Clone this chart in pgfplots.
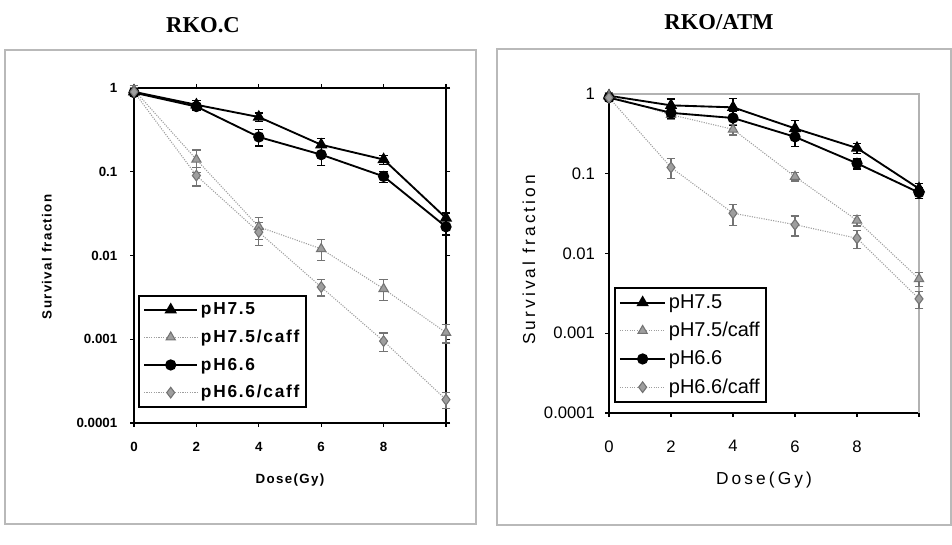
\documentclass[border=0pt]{standalone}
\usepackage{fontspec}
\setmainfont{Liberation Sans}
\newfontfamily\titlefont{Liberation Serif}
\newfontfamily\spacedfont[LetterSpace=10]{Liberation Sans}
\newfontfamily\widefont[LetterSpace=18]{Liberation Sans}
\usepackage{pgfplots}
\pgfplotsset{compat=1.18}
\definecolor{lgray}{gray}{0.62}
\definecolor{mgray}{gray}{0.45}

\pgfplotsset{
  blackser/.style={black, line width=1.4pt,
     error bars/y dir=both, error bars/y explicit relative,
     error bars/error bar style={black, line width=0.9pt},
     error bars/error mark options={rotate=90, mark size=3.2pt, black, line width=0.9pt}},
  grayser/.style={lgray, line width=0.8pt, densely dotted, mark options={solid, fill=lgray, draw=mgray},
     error bars/y dir=both, error bars/y explicit relative,
     error bars/error bar style={mgray, solid, line width=0.9pt},
     error bars/error mark options={rotate=90, mark size=3.2pt, mgray, solid, line width=0.9pt}},
  legimg/.style={legend image code/.code={\draw[mark repeat=2,mark phase=2] plot coordinates {(0pt,0pt)(#1,0pt)(2*#1,0pt)};}},
}

\begin{document}
\begin{tikzpicture}[x=0.75pt,y=0.75pt]
\path[use as bounding box] (0,0) rectangle (952,545);
\fill[white] (0,0) rectangle (952,545);
\draw[gray!55, line width=0.8pt] (5,21) rectangle (476,495);
\draw[gray!55, line width=0.8pt] (497,20) rectangle (951,496);
\node[font=\titlefont\bfseries\fontsize{17}{19}\selectfont] at (203,520) {RKO.C};
\node[font=\titlefont\bfseries\fontsize{17}{19}\selectfont] at (719,523) {RKO/ATM};

% ---------------- Left panel: RKO.C ----------------
\begin{axis}[
  at={(100.5pt,91.5pt)}, anchor=south west,
  scale only axis, width=234pt, height=251.25pt,
  ymode=log, xmin=0, xmax=10, ymin=1e-4, ymax=1,
  clip=false,
  xtick={0,2,4,6,8,10}, xticklabels={0,2,4,6,8,{}},
  ytick={1e-4,1e-3,1e-2,1e-1,1}, yticklabels={0.0001,0.001,0.01,0.1,1},
  yminorticks=false,
  axis line style={line width=1.6pt},
  tick style={black, line width=1pt}, tick align=outside, major tick length=3pt,
  ticklabel style={font=\bfseries\fontsize{10}{12}\selectfont},
  yticklabel style={xshift=-6pt},
  xticklabel style={yshift=-8pt},
  xlabel={\spacedfont\bfseries Dose(Gy)},
  ylabel={\spacedfont\bfseries Survival fraction},
  label style={font=\fontsize{10}{12}\selectfont},
  xlabel style={at={(axis description cs:0.5,-0.17)}, anchor=center},
  ylabel style={at={(axis description cs:-0.279,0.496)}, anchor=center},
  legend style={at={(axis description cs:0.013,0.382)}, anchor=north west,
     draw=black, line width=1.6pt, font=\spacedfont\bfseries\fontsize{13}{15}\selectfont,
     cells={anchor=west}, row sep=6pt, inner sep=3pt},
  legimg=20pt,
]
\addplot[blackser, mark=triangle*, mark size=4pt] coordinates {
 (0,0.9) +- (0,0.1) (2,0.63) +- (0,0.12) (4,0.45) +- (0,0.12) (6,0.21) +- (0,0.18) (8,0.14) +- (0,0.12) (10,0.028) +- (0,0.15)};
\addlegendentry{pH7.5}
\addplot[grayser, mark=triangle*, mark size=4pt] coordinates {
 (0,0.95) +- (0,0.12) (2,0.14) +- (0,0.3) (4,0.022) +- (0,0.3) (6,0.012) +- (0,0.28) (8,0.004) +- (0,0.28) (10,0.0012) +- (0,0.25)};
\addlegendentry{pH7.5/caff}
\addplot[blackser, mark=*, mark size=3.5pt] coordinates {
 (0,0.88) +- (0,0.1) (2,0.6) +- (0,0.1) (4,0.26) +- (0,0.22) (6,0.16) +- (0,0.25) (8,0.088) +- (0,0.15) (10,0.022) +- (0,0.2)};
\addlegendentry{pH6.6}
\addplot[grayser, mark=diamond*, mark size=4pt] coordinates {
 (0,0.9) +- (0,0.12) (2,0.09) +- (0,0.25) (4,0.019) +- (0,0.3) (6,0.0042) +- (0,0.22) (8,0.00095) +- (0,0.25) (10,0.00019) +- (0,0.22)};
\addlegendentry{pH6.6/caff}
\end{axis}

% ---------------- Right panel: RKO/ATM ----------------
\begin{axis}[
  at={(456.75pt,99pt)}, anchor=south west,
  scale only axis, width=232.5pt, height=239.25pt,
  ymode=log, xmin=0, xmax=10, ymin=1e-4, ymax=1,
  clip=false,
  axis x line*=bottom, axis y line*=left,
  xtick={0,2,4,6,8,10}, xticklabels={0,2,4,6,8,{}},
  ytick={1e-4,1e-3,1e-2,1e-1,1}, yticklabels={0.0001,0.001,0.01,0.1,1},
  yminorticks=false,
  axis line style={line width=1.6pt, -},
  tick style={black, line width=1pt}, tick align=outside, major tick length=3pt,
  ticklabel style={font=\fontsize{12.5}{14}\selectfont},
  yticklabel style={xshift=-4pt},
  xticklabel style={yshift=-14pt},
  xlabel={\widefont Dose(Gy)},
  ylabel={\widefont Survival fraction},
  label style={font=\fontsize{13}{15}\selectfont},
  xlabel style={at={(axis description cs:0.5,-0.21)}, anchor=center},
  ylabel style={at={(axis description cs:-0.258,0.48)}, anchor=center},
  legend style={at={(axis description cs:0.016,0.395)}, anchor=north west,
     draw=black, line width=1.6pt, font=\fontsize{15}{17}\selectfont,
     cells={anchor=west}, row sep=5pt, inner sep=3pt},
  legimg=17pt,
]
\draw[gray!60, line width=0.8pt] (rel axis cs:0,1) -- (rel axis cs:1,1) -- (rel axis cs:1,0);
\addplot[blackser, mark=triangle*, mark size=4pt] coordinates {
 (0,0.95) +- (0,0.1) (2,0.72) +- (0,0.2) (4,0.68) +- (0,0.3) (6,0.37) +- (0,0.25) (8,0.21) +- (0,0.15) (10,0.065) +- (0,0.15)};
\addlegendentry{pH7.5}
\addplot[grayser, mark=triangle*, mark size=4pt] coordinates {
 (0,0.95) +- (0,0.1) (2,0.55) +- (0,0.12) (4,0.36) +- (0,0.15) (6,0.092) +- (0,0.12) (8,0.026) +- (0,0.15) (10,0.0048) +- (0,0.2)};
\addlegendentry{pH7.5/caff}
\addplot[blackser, mark=*, mark size=3.5pt] coordinates {
 (0,0.9) +- (0,0.1) (2,0.58) +- (0,0.15) (4,0.5) +- (0,0.2) (6,0.29) +- (0,0.25) (8,0.135) +- (0,0.15) (10,0.058) +- (0,0.15)};
\addlegendentry{pH6.6}
\addplot[grayser, mark=diamond*, mark size=4pt] coordinates {
 (0,0.9) +- (0,0.1) (2,0.12) +- (0,0.28) (4,0.032) +- (0,0.3) (6,0.023) +- (0,0.28) (8,0.0155) +- (0,0.25) (10,0.0027) +- (0,0.25)};
\addlegendentry{pH6.6/caff}
\end{axis}
\end{tikzpicture}
\end{document}
